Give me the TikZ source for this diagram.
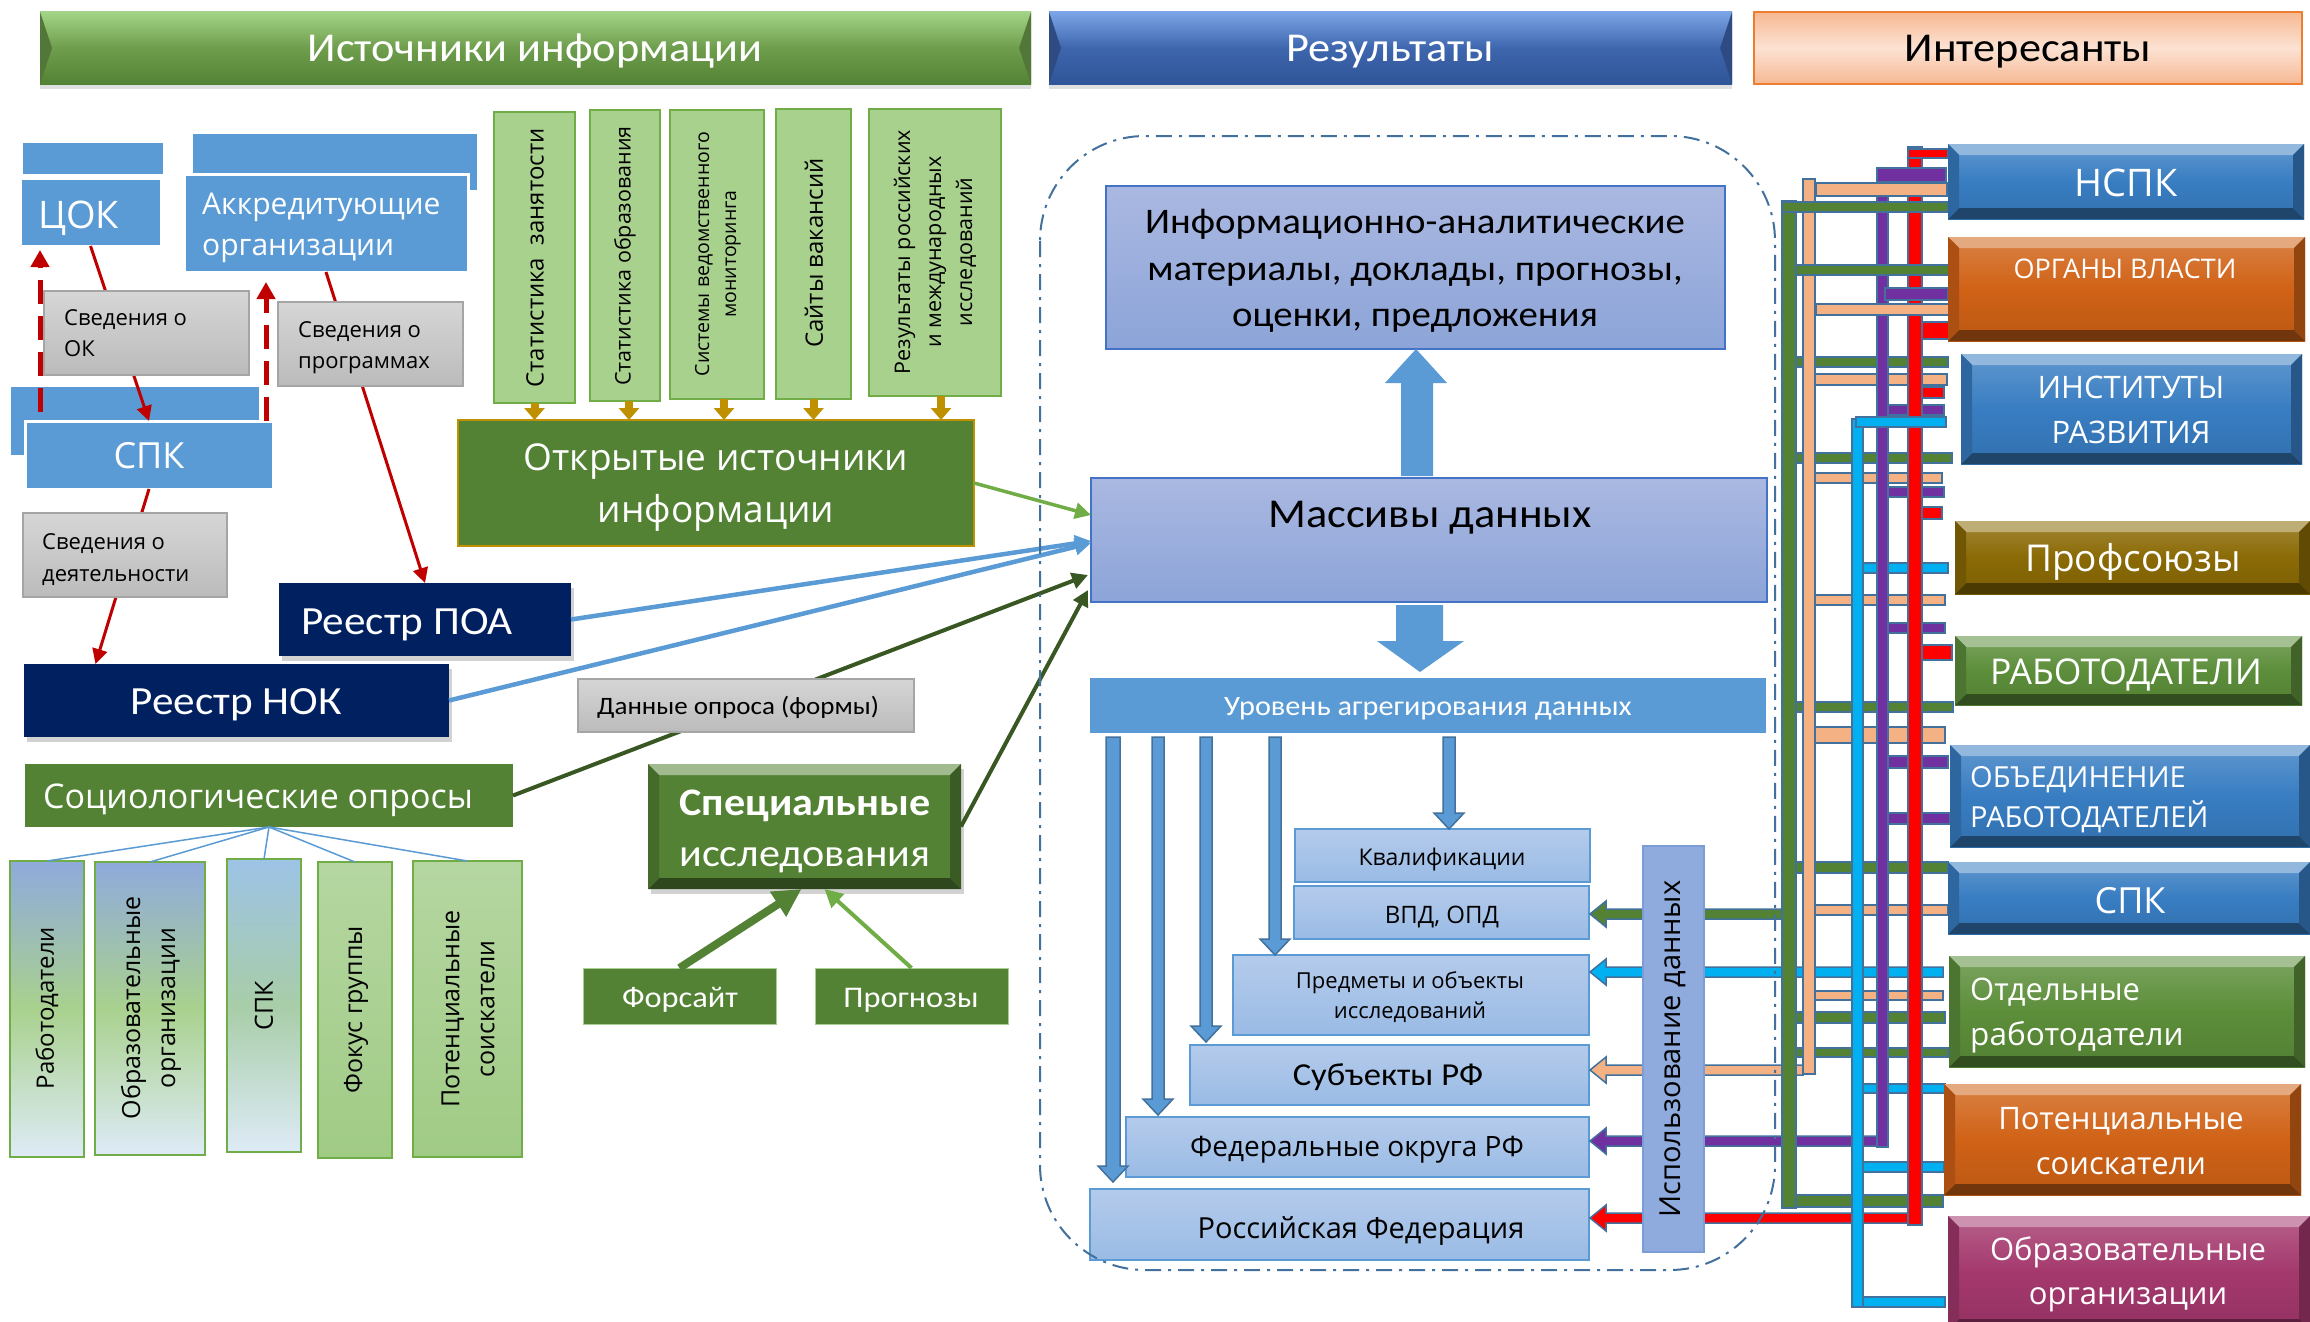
\documentclass[tikz,border=0pt]{standalone}
\usepackage{fontspec}
\setmainfont{Carlito}[FakeStretch=1.08]
\newfontfamily\seg{Open Sans}
\usetikzlibrary{shadows,arrows.meta}
\definecolor{cBlue}{HTML}{5B9BD5}
\definecolor{cOut}{HTML}{41719C}
\definecolor{cNavy}{HTML}{002060}
\definecolor{cGreenD}{HTML}{548235}
\definecolor{cGreenL}{HTML}{A9D18E}
\definecolor{cGreenB}{HTML}{70AD47}
\definecolor{cGold}{HTML}{BF9000}
\definecolor{cRedD}{HTML}{C00000}
\definecolor{cDkGreen}{HTML}{385723}
\definecolor{cLavT}{HTML}{AAB8E1}
\definecolor{cLavB}{HTML}{8CA4D8}
\definecolor{cLavE}{HTML}{4472C4}
\definecolor{cDatT}{HTML}{B4CBEB}
\definecolor{cDatB}{HTML}{9ABBE5}
\definecolor{cUse}{HTML}{8FAADC}
\definecolor{gT}{HTML}{D6D6D6}
\definecolor{gB}{HTML}{BBBBBB}
\definecolor{gE}{HTML}{A5A5A5}
\definecolor{bG}{HTML}{548235}
\definecolor{bP}{HTML}{F4B183}
\definecolor{bC}{HTML}{00B0F0}
\definecolor{bV}{HTML}{7030A0}
\definecolor{bR}{HTML}{FF0000}
\definecolor{rBlue}{HTML}{387DC2}
\definecolor{rOrange}{HTML}{D06216}
\definecolor{rOlive}{HTML}{8A6A05}
\definecolor{rGreen}{HTML}{5C8E3A}
\definecolor{rMag}{HTML}{A4386D}
\definecolor{hGt}{HTML}{A3D386}
\definecolor{hGm}{HTML}{6E9E4C}
\definecolor{hGb}{HTML}{548235}
\definecolor{hBt}{HTML}{7BA5E6}
\definecolor{hBm}{HTML}{3E66AE}
\definecolor{hBb}{HTML}{2F5597}
\definecolor{hPe}{HTML}{F6B893}
\definecolor{hPm}{HTML}{FCE2D3}
\definecolor{hPd}{HTML}{ED7D31}
\definecolor{sBt}{HTML}{8FAADC}
\definecolor{sWt}{HTML}{DEEBF7}
\definecolor{sCt}{HTML}{9DC3E6}
\definecolor{sCm}{HTML}{A8CDA8}
\definecolor{sGt}{HTML}{B5D6A1}
\definecolor{sGb}{HTML}{A0CB85}
\newcommand\fo[2]{\fontsize{#1}{#2}\selectfont}
\newcommand\Rbox[6]{\node[bx,#2,anchor=north west,minimum width={(#5-#3)*1pt},minimum height={(#6-#4)*1pt}] (#1) at (#3,#4) {};}
\newcommand\bevl[2]{%
 \fill[#2!55!white] (#1.north west) -- (#1.north east) -- ([shift={(-11pt,-11pt)}]#1.north east) -- ([shift={(11pt,-11pt)}]#1.north west) -- cycle;
 \fill[#2!55!black] (#1.south west) -- (#1.south east) -- ([shift={(-11pt,11pt)}]#1.south east) -- ([shift={(11pt,11pt)}]#1.south west) -- cycle;
 \fill[#2!70!black] (#1.north east) -- ([shift={(-11pt,-11pt)}]#1.north east) -- ([shift={(-11pt,11pt)}]#1.south east) -- (#1.south east) -- cycle;
 \fill[#2!82!black] (#1.north west) -- ([shift={(11pt,-11pt)}]#1.north west) -- ([shift={(11pt,11pt)}]#1.south west) -- (#1.south west) -- cycle;}
\newcommand\sidef[2]{%
 \fill[#2!75!black] (#1.north west) -- ([shift={(12pt,-36pt)}]#1.north west) -- (#1.south west) -- cycle;
 \fill[#2!75!black] (#1.north east) -- ([shift={(-12pt,-36pt)}]#1.north east) -- (#1.south east) -- cycle;}
\newcommand\hb[5]{\draw[bar,fill=#1] (#2,#4) rectangle (#3,#5);}
\newcommand\larr[3]{\draw[bar,fill=#1,line width=1.5pt] (#2,{#3-5}) -- (1606,{#3-5}) -- (1606,{#3-13}) -- (1590,#3) -- (1606,{#3+13}) -- (1606,{#3+5}) -- (#2,{#3+5}) -- cycle;}
\newcommand\darr[4]{\draw[blk] ({#1-#4},#2) -- ({#1+#4},#2) -- ({#1+#4},{#3-16}) -- ({#1+15},{#3-16}) -- (#1,#3) -- ({#1-15},{#3-16}) -- ({#1-#4},{#3-16}) -- cycle;}
\begin{document}
\begin{tikzpicture}[x=1pt,y=-1pt,
 bx/.style={inner sep=0pt,outer sep=0pt},
 tw/.style={text=white,inner sep=0pt},
 tb/.style={text=black,inner sep=0pt},
 bar/.style={draw=cOut,line width=2pt},
 blk/.style={draw=cOut,line width=1.5pt,fill=cBlue},
 redarr/.style={draw=cRedD,line width=3pt,-{Triangle[length=15pt,width=15pt]}},
 reddash/.style={draw=cRedD,line width=5pt,dash pattern=on 24pt off 12pt,-{Triangle[length=17pt,width=18pt]}},
 bluearr/.style={draw=cBlue,line width=4.5pt,-{Triangle[length=16pt,width=16pt]}},
 dgarr/.style={draw=cDkGreen,line width=4pt,-{Triangle[length=16pt,width=16pt]}},
 lgarr/.style={draw=cGreenB,line width=3.5pt,-{Triangle[length=16pt,width=16pt]}},
 goldarr/.style={draw=cGold,line width=8pt,-{Triangle[length=12pt,width=20pt]}},
 greybox/.style={top color=gT,bottom color=gB,draw=gE,line width=1.5pt},
 bluebox/.style={fill=cBlue},
 bluefront/.style={fill=cBlue,draw=white,line width=3pt},
 navybox/.style={fill=cNavy,drop shadow={shadow xshift=3pt,shadow yshift=-5pt,opacity=0.35}},
 statbox/.style={fill=cGreenL,draw=cGreenB,line width=1.5pt},
 lavbox/.style={top color=cLavT,bottom color=cLavB,draw=cLavE,line width=1.5pt},
 datbox/.style={top color=cDatT,bottom color=cDatB,draw=cBlue,line width=1.5pt},
 sline/.style={draw=cBlue,line width=1.5pt},
 rbox/.style={top color=#1!80!white,bottom color=#1!90!black,middle color=#1},
 sbox/.style={draw=cGreenB,line width=1.5pt},
 hshadow/.style={drop shadow={shadow xshift=0pt,shadow yshift=-5pt,opacity=0.25}}
]
\useasboundingbox (0,0) rectangle (2310,1322);
\fill[white] (0,0) rectangle (2310,1322);
% headers
\Rbox{hsrc}{hshadow,top color=hGt,bottom color=hGb,middle color=hGm}{40}{12}{1031}{84}
\sidef{hsrc}{hGm}
\Rbox{hres}{hshadow,top color=hBt,bottom color=hBb,middle color=hBm}{1049}{12}{1732}{84}
\sidef{hres}{hBm}
\Rbox{hint}{top color=hPe,bottom color=hPe,middle color=hPm,draw=hPd,line width=1.5pt}{1754}{12}{2302}{84}
% left blue boxes
\Rbox{cokb}{bluebox}{23}{143}{163}{174}
\Rbox{akkb}{bluebox}{193}{134}{477}{190}
\Rbox{spkb}{bluebox}{11}{387}{259}{455}
\Rbox{cok}{bluefront}{20}{178}{161}{246}
\Rbox{akk}{bluefront}{184}{174}{468}{272}
\Rbox{spk}{bluefront}{25}{421}{273}{489}
\Rbox{poa}{navybox}{279}{583}{571}{656}
\Rbox{nok}{navybox}{24}{664}{449}{737}
\Rbox{socio}{fill=cGreenD}{25}{764}{513}{827}
\Rbox{sr1b}{sbox,top color=sBt,bottom color=sWt,middle color=cGreenL}{10}{861}{84}{1157}
\Rbox{sr2b}{sbox,top color=sBt,bottom color=sWt,middle color=cGreenL}{95}{862}{205}{1155}
\Rbox{sr3b}{sbox,top color=sCt,bottom color=sWt,middle color=sCm}{227}{859}{301}{1152}
\Rbox{sr4b}{sbox,top color=sGt,bottom color=sGb}{318}{862}{392}{1158}
\Rbox{sr5b}{sbox,top color=sGt,bottom color=sGb}{413}{861}{522}{1157}
% stat boxes
\Rbox{st1}{statbox}{494}{112}{575}{403}
\Rbox{st2}{statbox}{590}{110}{660}{401}
\Rbox{st3}{statbox}{670}{110}{764}{399}
\Rbox{st4}{statbox}{776}{109}{851}{399}
\Rbox{st5}{statbox}{869}{109}{1001}{396}
\Rbox{open}{fill=cGreenD,draw=cGold,line width=1.2pt}{458}{420}{974}{546}
\Rbox{spec}{fill=cGreenD,drop shadow={shadow xshift=3pt,shadow yshift=-5pt,opacity=0.35}}{648}{764}{961}{889}
\bevl{spec}{cGreenD}
\Rbox{fors}{fill=cGreenD,draw=cGreenB!60,line width=1pt}{583}{968}{776}{1024}
\Rbox{prg}{fill=cGreenD,draw=cGreenB!60,line width=1pt}{815}{968}{1008}{1024}
% middle
\Rbox{info}{lavbox}{1106}{186}{1725}{349}
\Rbox{mas}{lavbox}{1091}{478}{1767}{602}
\Rbox{urov}{fill=cBlue}{1090}{678}{1766}{733}
\Rbox{kval}{datbox}{1295}{829}{1590}{882}
\Rbox{vpd}{datbox}{1294}{886}{1589}{939}
\Rbox{pred}{datbox}{1233}{955}{1589}{1035}
\Rbox{subj}{datbox}{1190}{1045}{1589}{1105}
\Rbox{fed}{datbox}{1126}{1117}{1589}{1177}
\Rbox{rf}{datbox}{1090}{1189}{1589}{1260}
% left arrows
\draw[reddash,shorten >=4pt] ([shift={(29pt,-25pt)}]spkb.north west) -- ([xshift=20pt]cok.south west);
\draw[reddash,shorten >=10pt] ([xshift=-7pt]spk.north east) -- ([xshift=82pt]akk.south west);
\draw[redarr] (cok.south) -- (spk.north);
\draw[redarr] (akk.south) -- (poa.north);
\draw[redarr] (spk.south) -- ([xshift=-141pt]nok.north);
\draw[sline] (socio.south) -- (sr1b.north);
\draw[sline] (socio.south) -- (sr2b.north);
\draw[sline] (socio.south) -- (sr3b.north);
\draw[sline] (socio.south) -- (sr4b.north);
\draw[sline] (socio.south) -- (sr5b.north);
\foreach \s/\d in {st1/0,st2/4,st3/7,st4/0,st5/6}{
 \draw[goldarr] ([xshift=\d pt]\s.south) -- ([xshift=\d pt]\s.south |- open.north);}
\draw[lgarr] (open.east) -- ([yshift=25pt]mas.west);
\draw[bluearr] (poa.east) -- ([yshift=-1pt]mas.west);
\draw[bluearr] (nok.east) -- ([yshift=-3pt]mas.west);
\draw[dgarr] (socio.east) -- ([shift={(-3pt,-35pt)}]mas.west);
\draw[dgarr] (spec.east) -- ([shift={(-3pt,-50pt)}]mas.west);
\draw[cGreenD,line width=8pt,-{Triangle[length=28pt,width=28pt]}] (fors.north) -- ([xshift=-3pt]spec.south);
\draw[cGreenB,line width=4pt,-{Triangle[length=18pt,width=18pt]}] (prg.north) -- ([xshift=20pt]spec.south);
% big arrows
\fill[cBlue] (1401,476) -- (1401,383) -- (1385,383) -- (1416,349) -- (1447,383) -- (1433,383) -- (1433,476) -- cycle;
\fill[cBlue] (1396,605) -- (1443,605) -- (1443,641) -- (1464,641) -- (1420,672) -- (1377,641) -- (1396,641) -- cycle;
\darr{1113}{737}{1182}{7}
\darr{1158}{737}{1115}{6}
\darr{1206}{737}{1042}{6}
\darr{1275}{737}{955}{6}
\darr{1449}{737}{829}{6}
% grey boxes
\Rbox{svok}{greybox}{44}{291}{249}{375}
\Rbox{svpr}{greybox}{278}{302}{463}{386}
\Rbox{svd}{greybox}{23}{513}{227}{597}
\Rbox{dan}{greybox}{578}{679}{914}{732}
% right bars
\hb{bG}{1796}{1948}{357}{367}
\hb{bP}{1815}{1947}{374}{385}
\hb{bR}{1922}{1944}{387}{398}
\hb{bV}{1888}{1944}{405}{415}
\hb{bG}{1796}{1952}{453}{463}
\hb{bP}{1815}{1942}{473}{483}
\hb{bV}{1888}{1944}{487}{497}
\hb{bR}{1922}{1942}{507}{519}
\hb{bC}{1863}{1948}{563}{573}
\hb{bP}{1815}{1945}{595}{605}
\hb{bV}{1888}{1945}{623}{633}
\hb{bR}{1922}{1952}{645}{660}
\hb{bG}{1796}{1953}{702}{712}
\hb{bP}{1815}{1945}{727}{743}
\hb{bV}{1888}{1948}{756}{768}
\hb{bV}{1888}{1950}{813}{824}
\hb{bG}{1796}{1948}{862}{873}
\hb{bP}{1815}{1948}{905}{915}
\hb{bP}{1815}{1943}{991}{1000}
\hb{bG}{1796}{1945}{1012}{1023}
\hb{bG}{1796}{1948}{1048}{1057}
\hb{bC}{1863}{1945}{1084}{1093}
\hb{bC}{1863}{1944}{1162}{1172}
\hb{bG}{1796}{1943}{1195}{1207}
\hb{bC}{1857}{1945}{1297}{1307}
\larr{bG}{1782}{914}
\larr{bC}{1943}{972}
\larr{bP}{1803}{1070}
\larr{bV}{1877}{1141}
\larr{bR}{1908}{1218}
\hb{bG}{1782}{1796}{201}{1208}
\hb{bP}{1803}{1815}{179}{1074}
\hb{bC}{1852}{1863}{419}{1307}
\hb{bV}{1877}{1888}{168}{1147}
\hb{bR}{1908}{1922}{147}{1225}
\hb{bR}{1908}{1948}{149}{158}
\hb{bV}{1877}{1946}{168}{182}
\hb{bP}{1816}{1947}{183}{196}
\hb{bG}{1782}{1948}{202}{212}
\hb{bG}{1796}{1952}{265}{275}
\hb{bV}{1885}{1948}{288}{300}
\hb{bP}{1816}{1950}{304}{315}
\hb{bR}{1922}{1950}{322}{339}
\hb{bC}{1856}{1946}{417}{427}
\Rbox{use}{fill=cUse,draw=cLavE!70,line width=1.5pt}{1643}{846}{1704}{1252}
% right boxes
\Rbox{nspk}{rbox=rBlue}{1948}{144}{2304}{219}\bevl{nspk}{rBlue}
\Rbox{org}{rbox=rOrange}{1948}{237}{2305}{341}\bevl{org}{rOrange}
\Rbox{inst}{rbox=rBlue}{1961}{354}{2302}{464}\bevl{inst}{rBlue}
\Rbox{prof}{rbox=rOlive}{1955}{521}{2310}{594}\bevl{prof}{rOlive}
\Rbox{rab}{rbox=rGreen}{1955}{636}{2302}{705}\bevl{rab}{rGreen}
\Rbox{obj}{rbox=rBlue}{1950}{745}{2310}{847}\bevl{obj}{rBlue}
\Rbox{spkr}{rbox=rBlue}{1948}{862}{2310}{934}\bevl{spkr}{rBlue}
\Rbox{otd}{rbox=rGreen}{1949}{956}{2305}{1067}\bevl{otd}{rGreen}
\Rbox{pot}{rbox=rOrange}{1944}{1084}{2301}{1195}\bevl{pot}{rOrange}
\Rbox{obr}{rbox=rMag}{1948}{1216}{2310}{1330}\bevl{obr}{rMag}
% frame
\draw[cOut,line width=2pt,dash pattern=on 16pt off 7pt on 3pt off 7pt,rounded corners=105pt] (1040,136) rectangle (1775,1270);
% texts
\node[tw,font=\fo{41}{48},anchor=base] (h1t) at (535,62) {Источники информации};
\node[tw,font=\fo{41}{48},anchor=base] (h2t) at (1390,62) {Результаты};
\node[tb,font=\fo{41}{48},anchor=base] (h3t) at (2028,62) {Интересанты};
\node[tw,font=\seg\fo{38}{44},anchor=base west] (cokt) at (38,228) {ЦОК};
\node[tw,font=\seg\fo{30}{36},anchor=base west] (akt1) at (202,214) {Аккредитующие};
\node[tw,font=\seg\fo{30}{36},anchor=base west] (akt2) at (202,255) {организации};
\node[tw,font=\seg\fo{36}{42},anchor=base] (spkt) at (149,468) {СПК};
\node[tb,font=\seg\fo{22}{26},anchor=base west] (svok1) at (64,325) {Сведения о};
\node[tb,font=\seg\fo{22}{26},anchor=base west] (svok2) at (64,356) {ОК};
\node[tb,font=\seg\fo{22}{26},anchor=base west] (svpr1) at (298,337) {Сведения о};
\node[tb,font=\seg\fo{22}{26},anchor=base west] (svpr2) at (298,368) {программах};
\node[tb,font=\seg\fo{22}{26},anchor=base west] (svd1) at (42,549) {Сведения о};
\node[tb,font=\seg\fo{22}{26},anchor=base west] (svd2) at (42,581) {деятельности};
\node[tw,font=\fo{40}{46},anchor=base west] (poat) at (301,634) {Реестр ПОА};
\node[tw,font=\fo{40}{46},anchor=base] (nokt) at (236,714) {Реестр НОК};
\node[tw,font=\seg\fo{34}{40},anchor=base west] (sociot) at (43,808) {Социологические опросы};
\node[tb,font=\seg\fo{24}{30},rotate=90] (sr1t) at (47,1008) {Работодатели};
\node[tb,font=\seg\fo{25}{35},rotate=90,align=center] (sr2t) at (151,1008) {Образовательные\\организации};
\node[tb,font=\seg\fo{25}{30},rotate=90] (sr3t) at (264,1006) {СПК};
\node[tb,font=\seg\fo{25}{30},rotate=90] (sr4t) at (356,1010) {Фокус группы};
\node[tb,font=\seg\fo{25}{35},rotate=90,align=center] (sr5t) at (468,1009) {Потенциальные\\соискатели};
\node[tb,font=\seg\fo{24}{28},rotate=90] (st1t) at (535,258) {Статистика\ \ занятости};
\node[tb,font=\seg\fo{21.5}{28},rotate=90] (st2t) at (625,256) {Статистика образования};
\node[tb,font=\seg\fo{19.5}{27},rotate=90,align=center] (st3t) at (718,254) {Системы ведомственного\\мониторинга};
\node[tb,font=\seg\fo{24}{30},rotate=90] (st4t) at (814,253) {Сайты вакансий};
\node[tb,font=\seg\fo{21.5}{31},rotate=90,align=center] (st5t) at (935,252) {Результаты российских\\и международных\\исследований};
\node[tw,font=\seg\fo{37}{42},anchor=base] (open1) at (716,470) {Открытые источники};
\node[tw,font=\seg\fo{37}{42},anchor=base] (open2) at (716,522) {информации};
\node[tb,font=\fo{25}{30},anchor=base west] (dant) at (597,714) {Данные опроса (формы)};
\node[tw,font=\bfseries\fo{39}{46},anchor=base] (spec1) at (805,815) {Специальные};
\node[tw,font=\fo{39}{46},anchor=base] (spec2) at (805,866) {исследования};
\node[tw,font=\fo{30}{36},anchor=base] (forst) at (680,1007) {Форсайт};
\node[tw,font=\fo{30}{36},anchor=base] (prgt) at (911,1007) {Прогнозы};
\node[tb,font=\fo{36}{40},anchor=base] (info1) at (1415,233) {Информационно-аналитические};
\node[tb,font=\fo{36}{40},anchor=base] (info2) at (1415,280) {материалы, доклады, прогнозы,};
\node[tb,font=\fo{36}{40},anchor=base] (info3) at (1415,326) {оценки, предложения};
\node[tb,font=\fo{41}{46},anchor=base] (mast) at (1430,527) {Массивы данных};
\node[tw,font=\fo{28}{34},anchor=base] (urovt) at (1428,715) {Уровень агрегирования данных};
\node[tb,font=\seg\fo{23}{28},anchor=base] (kvalt) at (1442,865) {Квалификации};
\node[tb,font=\seg\fo{24}{28},anchor=base] (vpdt) at (1442,923) {ВПД, ОПД};
\node[tb,font=\seg\fo{22}{28},anchor=base] (pred1) at (1410,988) {Предметы и объекты};
\node[tb,font=\seg\fo{22}{28},anchor=base] (pred2) at (1410,1018) {исследований};
\node[tb,font=\fo{32}{36},anchor=base] (subjt) at (1388,1085) {Субъекты РФ};
\node[tb,font=\seg\fo{28}{32},anchor=base] (fedt) at (1357,1156) {Федеральные округа РФ};
\node[tb,font=\seg\fo{29}{32},anchor=base] (rft) at (1361,1238) {Российская Федерация};
\node[tb,font=\seg\fo{29}{34},rotate=90] (uset) at (1673,1049) {Использование данных};
\node[tw,font=\seg\fo{38}{44},anchor=base] (nspkt) at (2126,196) {НСПК};
\node[tw,font=\seg\fo{27}{32},anchor=base] (orgt) at (2125,278) {ОРГАНЫ ВЛАСТИ};
\node[tw,font=\seg\fo{31}{36},anchor=base] (inst1) at (2131,398) {ИНСТИТУТЫ};
\node[tw,font=\seg\fo{31}{36},anchor=base] (inst2) at (2131,443) {РАЗВИТИЯ};
\node[tw,font=\seg\fo{37}{42},anchor=base] (proft) at (2133,571) {Профсоюзы};
\node[tw,font=\seg\fo{35.5}{40},anchor=base] (rabt) at (2126,684) {РАБОТОДАТЕЛИ};
\node[tw,font=\seg\fo{29}{34},anchor=base west] (obj1) at (1970,787) {ОБЪЕДИНЕНИЕ};
\node[tw,font=\seg\fo{29}{34},anchor=base west] (obj2) at (1970,827) {РАБОТОДАТЕЛЕЙ};
\node[tw,font=\seg\fo{36}{42},anchor=base] (spkrt) at (2130,913) {СПК};
\node[tw,font=\seg\fo{31}{36},anchor=base west] (otd1) at (1970,1000) {Отдельные};
\node[tw,font=\seg\fo{31.5}{36},anchor=base west] (otd2) at (1970,1045) {работодатели};
\node[tw,font=\seg\fo{31}{36},anchor=base] (pot1) at (2121,1129) {Потенциальные};
\node[tw,font=\seg\fo{31}{36},anchor=base] (pot2) at (2121,1174) {соискатели};
\node[tw,font=\seg\fo{31}{36},anchor=base] (obr1) at (2128,1260) {Образовательные};
\node[tw,font=\seg\fo{31}{36},anchor=base] (obr2) at (2128,1304) {организации};
\end{tikzpicture}
\end{document}
